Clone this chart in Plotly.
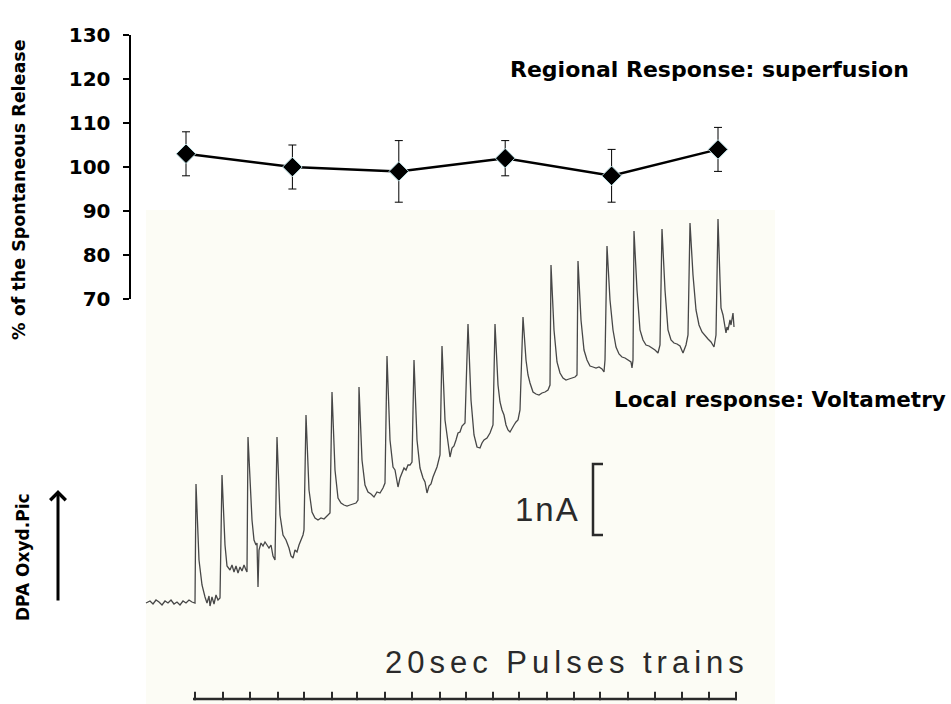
import plotly.graph_objects as go

W, H = 951, 704

# ---------------- Top chart: regional response (superfusion) ----------------
sample_idx = [1, 2, 3, 4, 5, 6]
release_pct = [103, 100, 99, 102, 98, 104]
release_err = [5, 5, 7, 4, 6, 5]
y_ticks = [70, 80, 90, 100, 110, 120, 130]

# ---------------- Voltammetry trace (read from the scanned record) ----------
# time in s (chart units), signal in chart units (71 units = 1 nA)
trace_t = [0, 4, 7, 10, 13, 16, 19, 22, 25, 28, 31, 34, 37, 40, 43, 46, 49,
           50, 53, 56, 59, 61, 63, 64, 66, 68, 70, 72, 74,
           76, 79, 81, 84, 86, 88, 90, 92, 94, 96, 98, 100, 101,
           102, 106, 108, 110, 111, 112, 113, 115, 117, 119, 121, 123, 125, 127, 129,
           131, 134, 137, 140, 143, 145, 147, 149, 151, 153, 155, 157, 158,
           160, 163, 166, 169, 172, 175, 178, 181, 184,
           186, 189, 192, 195, 198, 201, 204, 207, 210, 212,
           213, 216, 219, 222, 225, 228, 231, 234, 237, 239,
           241, 244, 247, 249, 251, 252, 254, 256, 258, 260, 262, 264, 266,
           268, 271, 274, 277, 279, 281, 283, 285, 287, 289, 291, 294,
           296, 299, 301, 303, 304, 306, 308, 310, 312, 314, 316, 319,
           322, 325, 328, 331, 334, 336, 338, 341, 344, 347,
           349, 352, 354, 356, 358, 360, 362, 364, 366, 368, 370, 372, 374,
           377, 380, 382, 384, 387, 390, 393, 396, 399, 402, 404,
           405, 408, 411, 414, 417, 420, 423, 426, 429, 431,
           432, 435, 438, 441, 444, 447, 450, 453, 456, 458, 459,
           461, 464, 467, 470, 473, 476, 479, 482, 485, 486, 487,
           488, 491, 494, 497, 500, 503, 506, 509, 512, 514,
           516, 519, 522, 525, 528, 531, 534, 537, 540, 542,
           544, 547, 550, 553, 556, 559, 562, 565, 568, 570,
           572, 574, 575, 577, 578, 580, 581, 582, 584, 585, 587, 588]
trace_sig = [-1, 1, -2, 2, 0, -3, 1, -1, 2, -2, 0, -3, 1, -1, 2, 0, -1,
             118, 42, 17, 5, -1, 6, -4, 5, -2, 7, 2, 4,
             127, 57, 36, 32, 37, 30, 36, 29, 35, 31, 37, 32, 30,
             165, 82, 62, 57, 59, 15, 52, 59, 56, 60, 57, 54, 57, 46, 42,
             165, 87, 67, 62, 54, 46, 44, 52, 50, 57, 62, 67, 72,
             187, 112, 90, 84, 82, 84, 83, 86, 89,
             210, 132, 104, 99, 97, 96, 97, 98, 99, 102,
             215, 142, 117, 110, 108, 105, 110, 109, 114, 119,
             246, 162, 135, 132, 122, 115, 124, 130, 134, 132, 137, 137, 140,
             242, 162, 134, 124, 120, 109, 116, 118, 125, 130, 135, 147,
             256, 182, 165, 152, 145, 154, 156, 162, 169, 170, 176, 179,
             278, 202, 167, 155, 154, 159, 162, 164, 169, 177,
             278, 217, 200, 192, 187, 177, 172, 170, 174, 177, 180, 182, 192,
             285, 242, 227, 219, 210, 208, 207, 209, 210, 212, 217,
             337, 272, 240, 229, 224, 222, 223, 224, 225, 227,
             341, 282, 252, 242, 236, 235, 234, 235, 233, 230, 242,
             356, 302, 272, 255, 248, 245, 244, 242, 240, 234, 242,
             371, 312, 272, 262, 257, 256, 254, 252, 249, 257,
             373, 312, 272, 262, 259, 258, 256, 249, 257, 267,
             379, 327, 292, 277, 270, 266, 263, 260, 255, 267,
             383, 322, 294, 287, 279, 269, 275, 272, 282, 277, 289, 275]

# pulse-train markers under the record
train_t = [49, 77, 104, 132, 158, 186, 211, 239, 266, 294, 320,
           347, 373, 401, 428, 454, 482, 509, 536, 563, 590]
train_bar_t = [47, 591]
train_level = -97

# 1 nA scale bracket
scale_t = [457, 447, 447, 457]
scale_sig = [138, 138, 67, 67]


def px(x):
    return x / W


def py(y):
    return 1 - y / H


fig = go.Figure()

# top chart
fig.add_trace(go.Scatter(
    x=sample_idx, y=release_pct, mode="lines+markers",
    line=dict(color="black", width=2.5),
    marker=dict(symbol="diamond", size=15, color="black",
                line=dict(color="#bfe3e8", width=1)),
    error_y=dict(type="data", array=release_err, visible=True,
                 color="black", thickness=1, width=4),
    xaxis="x", yaxis="y", hoverinfo="skip"))

# voltammetry trace
fig.add_trace(go.Scatter(
    x=trace_t, y=trace_sig, mode="lines",
    line=dict(color="#474747", width=1.3),
    xaxis="x2", yaxis="y2", hoverinfo="skip"))

# pulse trains bar + ticks
fig.add_trace(go.Scatter(
    x=train_bar_t, y=[train_level, train_level], mode="lines",
    line=dict(color="#2a2a2a", width=2.5),
    xaxis="x2", yaxis="y2", hoverinfo="skip"))
fig.add_trace(go.Scatter(
    x=train_t, y=[train_level + 3] * len(train_t), mode="markers",
    marker=dict(symbol="line-ns", size=6,
                line=dict(color="#2a2a2a", width=2)),
    xaxis="x2", yaxis="y2", hoverinfo="skip"))

# scale bracket
fig.add_trace(go.Scatter(
    x=scale_t, y=scale_sig, mode="lines",
    line=dict(color="#2a2a2a", width=2.5),
    xaxis="x2", yaxis="y2", hoverinfo="skip"))

ppu = 106.4  # pixel spacing of the six samples
x_left = 131
x0 = 186
fig.update_layout(
    width=W, height=H,
    margin=dict(l=0, r=0, t=0, b=0, pad=0, autoexpand=False),
    paper_bgcolor="white", plot_bgcolor="rgba(0,0,0,0)",
    showlegend=False,
    xaxis=dict(domain=[px(x_left), 1],
               range=[1 - (x0 - x_left) / ppu, 1 + (W - x0) / ppu],
               visible=False, fixedrange=True, automargin=False),
    yaxis=dict(domain=[py(299), py(35)], range=[70, 130],
               tickvals=y_ticks, ticks="outside", ticklen=6, tickwidth=2,
               tickcolor="black", showline=True, linewidth=2.5,
               linecolor="black", showgrid=False, zeroline=False,
               tickfont=dict(family="DejaVu Sans", size=20, color="black",
                             weight="bold"),
               ticklabelstandoff=8, fixedrange=True, automargin=False),
    xaxis2=dict(domain=[0, 1], range=[-146, W - 146], visible=False,
                anchor="y2", fixedrange=True, automargin=False),
    yaxis2=dict(domain=[0, 1], range=[602 - H, 602], visible=False,
                anchor="x2", fixedrange=True, automargin=False),
    shapes=[dict(type="rect", xref="paper", yref="paper",
                 x0=px(146), x1=px(775), y0=0, y1=py(210),
                 fillcolor="#fcfcf5", line=dict(width=0), layer="below")],
)

bold = dict(family="DejaVu Sans", color="black", weight="bold")
fig.add_annotation(text="% of the Spontaneous Release", textangle=-90,
                   x=px(19), y=py(190), xref="paper", yref="paper",
                   xanchor="center", yanchor="middle",
                   showarrow=False, font=dict(size=17.5, **bold))
fig.add_annotation(text="Regional Response: superfusion",
                   x=px(508), y=py(70), xref="paper", yref="paper",
                   xanchor="left", yanchor="middle",
                   showarrow=False, font=dict(size=22, **bold))
fig.add_annotation(text="Local response: Voltametry",
                   x=px(612), y=py(399), xref="paper", yref="paper",
                   xanchor="left", yanchor="middle",
                   showarrow=False, font=dict(size=21.5, **bold))
fig.add_annotation(text="DPA Oxyd.Pic", textangle=-90,
                   x=px(23), y=py(557), xref="paper", yref="paper",
                   xanchor="center", yanchor="middle",
                   showarrow=False, font=dict(size=17, **bold))
fig.add_annotation(text="", x=px(58), y=py(490), xref="paper", yref="paper",
                   showarrow=True, ax=0, ay=112, arrowhead=4, arrowsize=1,
                   arrowwidth=3, arrowcolor="black")
fig.add_annotation(text='<span style="letter-spacing:2px">1nA</span>',
                   x=px(513), y=py(509), xref="paper", yref="paper",
                   xanchor="left", yanchor="middle", showarrow=False,
                   font=dict(family="Liberation Sans", size=33, color="#2a2a2a"))
fig.add_annotation(text='<span style="letter-spacing:5px">20sec Pulses trains</span>',
                   x=px(383), y=py(662), xref="paper", yref="paper",
                   xanchor="left", yanchor="middle", showarrow=False,
                   font=dict(family="Liberation Sans", size=31, color="#2a2a2a"))

fig.write_html("out.html",
               config={"displayModeBar": False, "staticPlot": True},
               post_script="document.body.style.margin='0';"
                           "document.body.style.overflow='hidden';")
